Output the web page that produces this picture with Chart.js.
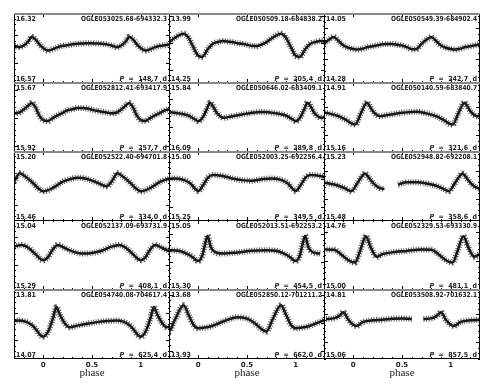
<!DOCTYPE html>
<html>
<head>
<meta charset="utf-8">
<script src="https://cdn.jsdelivr.net/npm/chart.js@4"></script>
<style>
  body { margin: 0; background: #fff; width: 492px; height: 389px; position: relative; overflow: hidden; }
  canvas { position: absolute; }
</style>
</head>
<body>
<script>
// star names, periods and the magnitude range shown in each panel (row by row)
const starNames = [
  'OGLE053025.68-694332.3', 'OGLE050509.18-684838.2', 'OGLE050549.39-684902.4',
  'OGLE052812.41-693417.9', 'OGLE050646.02-683409.1', 'OGLE050140.59-683840.7',
  'OGLE052522.40-694701.8', 'OGLE052003.25-692256.4', 'OGLE052948.82-692208.1',
  'OGLE052137.09-693731.9', 'OGLE052013.51-692253.2', 'OGLE052329.53-693330.9',
  'OGLE054740.08-704617.4', 'OGLE052850.12-701211.2', 'OGLE053508.92-701632.1'
];
const periods = [148.7, 205.4, 242.7, 257.7, 289.8, 321.6, 334.0, 349.5, 358.6, 408.1, 454.5, 481.1, 625.4, 662.0, 857.5];
const magTop = [16.32, 13.99, 14.05, 15.67, 15.84, 14.91, 15.20, 15.00, 15.23, 15.04, 15.05, 14.76, 13.81, 13.68, 14.81];
const magBottom = [16.57, 14.25, 14.28, 15.92, 16.09, 15.16, 15.46, 15.25, 15.48, 15.29, 15.30, 15.00, 14.07, 13.93, 15.06];

// x axis
const phaseMin = -0.3, phaseMax = 1.3;
const phaseTicks = [0, 0.5, 1];
const phaseLabels = ['0', '0.5', '1'];

// one pulsation cycle per star: [phase, mag]; null = no data
const lc1 = [[0,16.445],[0.05,16.454],[0.1,16.449],[0.15,16.442],[0.2,16.437],[0.25,16.435],[0.3,16.432],[0.35,16.43],[0.4,16.429],[0.45,16.428],[0.5,16.428],[0.55,16.429],[0.6,16.43],[0.65,16.432],[0.7,16.436],[0.75,16.442],[0.8,16.436],[0.85,16.42],[0.88,16.405],[0.92,16.414],[0.96,16.432]];
const lc2 = [[0,14.149],[0.04,14.153],[0.1,14.123],[0.15,14.104],[0.2,14.098],[0.25,14.094],[0.3,14.096],[0.35,14.098],[0.4,14.102],[0.45,14.104],[0.5,14.108],[0.55,14.112],[0.6,14.113],[0.65,14.107],[0.7,14.098],[0.75,14.085],[0.8,14.073],[0.85,14.067],[0.9,14.082],[0.95,14.117]];
const lc3 = [[0,14.168],[0.05,14.17],[0.1,14.167],[0.15,14.162],[0.2,14.159],[0.25,14.156],[0.3,14.153],[0.35,14.152],[0.4,14.152],[0.45,14.154],[0.5,14.157],[0.55,14.162],[0.6,14.169],[0.65,14.168],[0.7,14.151],[0.75,14.138],[0.8,14.129],[0.85,14.142],[0.9,14.157],[0.95,14.164]];
const lc4 = [[0,15.806],[0.05,15.809],[0.1,15.798],[0.15,15.788],[0.2,15.78],[0.25,15.771],[0.3,15.767],[0.35,15.763],[0.4,15.763],[0.45,15.765],[0.5,15.769],[0.55,15.773],[0.6,15.776],[0.65,15.779],[0.7,15.782],[0.75,15.78],[0.8,15.768],[0.85,15.753],[0.88,15.745],[0.92,15.76],[0.96,15.79]];
const lc5 = [[0,15.98],[0.05,15.964],[0.09,15.935],[0.12,15.914],[0.19,15.95],[0.26,15.968],[0.35,15.962],[0.45,15.956],[0.55,15.95],[0.65,15.947],[0.8,15.952],[0.9,15.96],[0.96,15.972]];
const lc6 = [[0.02,15.062],[0.08,15.02],[0.14,14.984],[0.2,15.014],[0.27,15.032],[0.35,15.028],[0.5,15.02],[0.65,15.016],[0.75,15.022],[0.85,15.032],[0.93,15.046],[0.98,15.058]];
const lc7 = [[0,15.35],[0.1,15.337],[0.2,15.314],[0.3,15.302],[0.35,15.299],[0.45,15.304],[0.55,15.317],[0.65,15.331],[0.7,15.314],[0.76,15.283],[0.82,15.296],[0.9,15.321],[0.95,15.339]];
const lc8 = [[0,15.143],[0.05,15.122],[0.1,15.095],[0.15,15.086],[0.25,15.089],[0.35,15.098],[0.45,15.104],[0.55,15.106],[0.65,15.101],[0.75,15.098],[0.85,15.103],[0.92,15.116],[0.96,15.132]];
const lc9 = [[0.04,15.346],[0.08,15.325],[0.12,15.31],[0.17,15.33],[0.22,15.35],[0.27,15.362],[0.32,15.366],[0.39,null],[0.46,15.35],[0.55,15.342],[0.65,15.342],[0.75,15.346],[0.85,15.354],[0.92,15.364],[0.98,15.374]];
const lc10 = [[0,15.184],[0.05,15.172],[0.1,15.144],[0.15,15.129],[0.22,15.14],[0.3,15.152],[0.4,15.16],[0.5,15.158],[0.6,15.15],[0.7,15.135],[0.78,15.129],[0.85,15.14],[0.92,15.162],[0.96,15.176]];
const lc11 = [[0,15.196],[0.04,15.178],[0.07,15.136],[0.095,15.106],[0.13,15.148],[0.18,15.166],[0.25,15.17],[0.4,15.166],[0.55,15.16],[0.7,15.158],[0.8,15.16],[0.88,15.17],[0.94,15.182],[0.98,15.194]];
const lc12 = [[0.02,14.906],[0.07,14.866],[0.13,14.816],[0.18,14.854],[0.24,14.886],[0.3,14.877],[0.4,14.871],[0.55,14.866],[0.7,14.861],[0.8,14.862],[0.88,14.879],[0.95,14.898]];
const lc13 = [[0,13.987],[0.05,13.968],[0.1,13.918],[0.135,13.877],[0.17,13.905],[0.22,13.937],[0.27,13.952],[0.35,13.946],[0.45,13.939],[0.55,13.933],[0.65,13.929],[0.75,13.927],[0.82,13.931],[0.88,13.943],[0.93,13.962],[0.97,13.981]];
const lc14 = [[0,13.82],[0.1,13.816],[0.2,13.804],[0.3,13.79],[0.4,13.781],[0.5,13.786],[0.58,13.802],[0.66,13.826],[0.7,13.832],[0.76,13.79],[0.85,13.738],[0.9,13.772],[0.95,13.808]];
const lc15 = [[0,14.938],[0.03,14.942],[0.1,14.928],[0.2,14.922],[0.3,14.92],[0.4,14.916],[0.5,14.915],[0.6,14.917],[0.66,null],[0.72,14.917],[0.8,14.915],[0.86,14.905],[0.9,14.893],[0.95,14.92]];

const curves = [lc1, lc2, lc3, lc4, lc5, lc6, lc7, lc8, lc9, lc10, lc11, lc12, lc13, lc14, lc15];

const COLS = 3, ROWS = 5;
const LEFT = 14, TOP = 13, PW = 155, PH = 69, AXIS_H = 31;
const greyTop = [true, true, true, false, true];
const labelFont = 'bold 7px "DejaVu Sans Condensed", "DejaVu Sans", sans-serif';

// same cycle plotted at phase-1, phase and phase+1
function foldPoints(curve) {
  const pts = [];
  [-1, 0, 1].forEach(k => {
    curve.forEach(([p, m]) => {
      const x = p + k;
      if (x < phaseMin - 0.06 || x > phaseMax + 0.06) return;
      pts.push({ x: x, y: m });
    });
  });
  pts.sort((a, b) => a.x - b.x);
  return pts;
}

function drawPanel(chart, i, row) {
  const ctx = chart.ctx;
  const a = chart.chartArea;
  const xs = chart.scales.x, ys = chart.scales.y;
  ctx.save();

  // tick marks, pointing inwards
  ctx.strokeStyle = '#000';
  ctx.lineWidth = 1;
  ctx.beginPath();
  for (let t = -3; t <= 13; t++) {
    const px = Math.round(xs.getPixelForValue(t / 10)) + 0.5;
    const len = t % 5 === 0 ? 4 : 2;
    ctx.moveTo(px, a.top); ctx.lineTo(px, a.top + len);
    ctx.moveTo(px, a.bottom); ctx.lineTo(px, a.bottom - len);
  }
  for (let v = Math.ceil(magTop[i] * 50); v <= Math.floor(magBottom[i] * 50); v++) {
    const py = Math.round(ys.getPixelForValue(v / 50)) + 0.5;
    const len = v % 5 === 0 ? 4 : 2;
    ctx.moveTo(a.left, py); ctx.lineTo(a.left + len, py);
    ctx.moveTo(a.right, py); ctx.lineTo(a.right - len, py);
  }
  ctx.stroke();

  // frame
  ctx.strokeRect(a.left + 0.5, a.top + 0.5, a.right - a.left - 1, a.bottom - a.top - 1);
  if (greyTop[row]) {
    ctx.strokeStyle = '#888';
    ctx.lineWidth = 2;
    ctx.beginPath();
    ctx.moveTo(a.left, a.top + 1); ctx.lineTo(a.right, a.top + 1);
    ctx.stroke();
  }

  // labels
  ctx.fillStyle = '#222';
  ctx.font = labelFont;
  ctx.textBaseline = 'alphabetic';
  ctx.textAlign = 'left';
  ctx.fillText(magTop[i].toFixed(2), a.left + 2, a.top + 8);
  ctx.fillText(magBottom[i].toFixed(2), a.left + 2, a.bottom - 2);
  ctx.textAlign = 'right';
  ctx.fillText(starNames[i], a.right - 3, a.top + 8, 86);
  const rest = '  =  ' + periods[i].toFixed(1) + '  d';
  ctx.fillText(rest, a.right - 3, a.bottom - 2);
  const restW = ctx.measureText(rest).width;
  ctx.font = 'italic ' + labelFont;
  ctx.fillText('P', a.right - 3 - restW, a.bottom - 2);

  // phase axis under the bottom row
  if (row === ROWS - 1) {
    ctx.textAlign = 'center';
    ctx.fillStyle = '#222';
    ctx.font = 'bold 7px "DejaVu Sans", sans-serif';
    phaseTicks.forEach((t, k) => {
      ctx.fillText(phaseLabels[k], xs.getPixelForValue(t), a.bottom + 8);
    });
    ctx.font = '11px "Liberation Serif", serif';
    ctx.fillText('phase', xs.getPixelForValue(0.5), a.bottom + 17);
  }
  ctx.restore();
}

curves.forEach((curve, i) => {
  const row = Math.floor(i / COLS), col = i % COLS;
  const isBottom = row === ROWS - 1;
  const canvas = document.createElement('canvas');
  canvas.width = PW + 1;
  canvas.height = PH + 1 + (isBottom ? AXIS_H : 0);
  canvas.style.left = (LEFT + col * PW) + 'px';
  canvas.style.top = (TOP + row * PH) + 'px';
  document.body.appendChild(canvas);

  const pts = foldPoints(curve);
  new Chart(canvas.getContext('2d'), {
    type: 'scatter',
    data: {
      datasets: [
        {
          // speckled outer band, like the cloud of individual measurements
          data: pts, showLine: true, borderColor: 'rgba(40,40,40,0.75)', borderWidth: 6,
          borderDash: [1, 1.5], pointRadius: 0, cubicInterpolationMode: 'monotone', spanGaps: false
        },
        {
          data: pts, showLine: true, borderColor: '#111', borderWidth: 2.5,
          pointRadius: 0, cubicInterpolationMode: 'monotone', spanGaps: false
        }
      ]
    },
    options: {
      responsive: false,
      animation: false,
      devicePixelRatio: 1,
      layout: { padding: { left: 0, right: 0, top: 0, bottom: isBottom ? AXIS_H : 0 } },
      plugins: { legend: { display: false }, tooltip: { enabled: false } },
      scales: {
        x: { type: 'linear', min: phaseMin, max: phaseMax, display: false },
        y: { type: 'linear', min: magTop[i], max: magBottom[i], reverse: true, display: false }
      }
    },
    plugins: [{
      id: 'panel' + i,
      afterDraw: chart => drawPanel(chart, i, row)
    }]
  });
});
</script>
</body>
</html>
